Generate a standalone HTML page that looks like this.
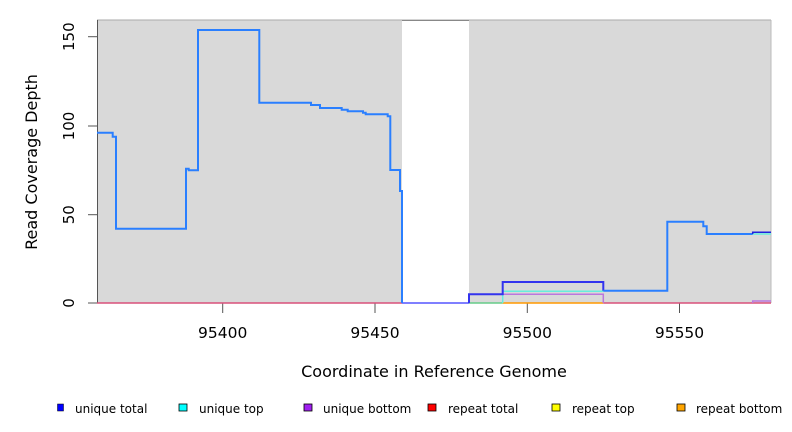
<!DOCTYPE html>
<html><head><meta charset="utf-8"><style>
html,body{margin:0;padding:0;background:#fff;}
svg{display:block;font-family:"DejaVu Sans","Liberation Sans",sans-serif;}
</style></head><body>
<svg width="792" height="432" viewBox="0 0 792 432" xmlns="http://www.w3.org/2000/svg">
<rect x="97" y="20" width="674" height="283" fill="#d9d9d9"/>
<rect x="402" y="20" width="67" height="283" fill="#ffffff"/>
<line x1="97" y1="20" x2="771" y2="20" stroke="#aaa" stroke-width="1"/>
<line x1="402" y1="20.5" x2="469" y2="20.5" stroke="#888" stroke-width="1"/>
<line x1="771" y1="20" x2="771" y2="303" stroke="#bbb" stroke-width="1"/>
<line x1="97.5" y1="20" x2="97.5" y2="303" stroke="#555" stroke-width="1"/>
<g stroke="#555" stroke-width="1">
<line x1="88" y1="36.7" x2="97" y2="36.7"/>
<line x1="88" y1="126" x2="97" y2="126"/>
<line x1="88" y1="214.7" x2="97" y2="214.7"/>
<line x1="88" y1="303" x2="97" y2="303"/>
</g>
<g font-size="15" fill="#000" text-anchor="middle">
<text transform="translate(74,36.7) rotate(-90)">150</text>
<text transform="translate(74,126) rotate(-90)">100</text>
<text transform="translate(74,214.7) rotate(-90)">50</text>
<text transform="translate(74,303) rotate(-90)">0</text>
<text transform="translate(37,162) rotate(-90)" font-size="16">Read Coverage Depth</text>
</g>
<g stroke="#555" stroke-width="1">
<line x1="222.7" y1="303" x2="222.7" y2="313"/>
<line x1="375" y1="303" x2="375" y2="313"/>
<line x1="527.3" y1="303" x2="527.3" y2="313"/>
<line x1="679.5" y1="303" x2="679.5" y2="313"/>
</g>
<g font-size="15.5" fill="#000" text-anchor="middle">
<text x="222.7" y="338">95400</text>
<text x="375" y="338">95450</text>
<text x="527.3" y="338">95500</text>
<text x="679.5" y="338">95550</text>
<text x="434" y="377" font-size="16">Coordinate in Reference Genome</text>
</g>
<line x1="97" y1="303" x2="402" y2="303" stroke="#d9507a" stroke-width="1.5"/>
<line x1="402" y1="303" x2="469" y2="303" stroke="#5555ff" stroke-width="1.5"/>
<line x1="469" y1="303" x2="502.7" y2="303" stroke="#66cc88" stroke-width="1.5"/>
<line x1="502.7" y1="303" x2="603.3" y2="303" stroke="#ff9900" stroke-width="1.5"/>
<line x1="603.3" y1="303" x2="771" y2="303" stroke="#d9507a" stroke-width="1.5"/>
<polyline fill="none" stroke="#66eedd" stroke-width="1.5" points="502.7,303 502.7,291.3 603.3,291.3"/>
<polyline fill="none" stroke="#bb77dd" stroke-width="1.5" points="502.7,294.3 603.3,294.3 603.3,303"/>
<polyline fill="none" stroke="#bb77dd" stroke-width="1.5" points="752.7,303 752.7,301 771,301"/>
<line x1="752.7" y1="234" x2="771" y2="234" stroke="#66eedd" stroke-width="1.5"/>
<polyline fill="none" stroke="#2a7fff" stroke-width="2" points="97,132.7 112.7,132.7 112.7,136.7 116,136.7 116,228.7 186,228.7 186,168.7 188.7,168.7 188.7,170.3 198,170.3 198,30 259.3,30 259.3,102.7 311,102.7 311,105 320,105 320,108 341.7,108 341.7,109.7 347.7,109.7 347.7,111.3 363,111.3 363,112.7 365.7,112.7 365.7,114.3 387.7,114.3 387.7,116.3 390.3,116.3 390.3,170 400,170 400,191 402,191 402,303"/>
<polyline fill="none" stroke="#3333ee" stroke-width="2" points="469,303 469,294.3 502.7,294.3 502.7,282 603.3,282 603.3,290.7"/>
<polyline fill="none" stroke="#2a7fff" stroke-width="2" points="603.3,290.7 667.3,290.7 667.3,221.7 703.3,221.7 703.3,226.3 706.7,226.3 706.7,234 752.7,234"/>
<polyline fill="none" stroke="#2222dd" stroke-width="1.5" points="752.7,234 752.7,232.3 771,232.3"/>
<g font-size="12" fill="#000">
<rect x="57.5" y="404" width="6" height="7" fill="#0000ff" stroke="#000" stroke-width="0.5"/>
<text x="75" y="413">unique total</text>
<rect x="179" y="404" width="8" height="7" fill="#00ffff" stroke="#000" stroke-width="0.8"/>
<text x="199" y="413">unique top</text>
<rect x="304" y="404" width="8" height="7" fill="#a020f0" stroke="#000" stroke-width="0.8"/>
<text x="323" y="413">unique bottom</text>
<rect x="428" y="404" width="8" height="7" fill="#ff0000" stroke="#000" stroke-width="0.8"/>
<text x="448" y="413">repeat total</text>
<rect x="552" y="404" width="8" height="7" fill="#ffff00" stroke="#000" stroke-width="0.8"/>
<text x="572" y="413">repeat top</text>
<rect x="677" y="404" width="8" height="7" fill="#ffa500" stroke="#000" stroke-width="0.8"/>
<text x="696" y="413">repeat bottom</text>
</g>
</svg>
</body></html>
